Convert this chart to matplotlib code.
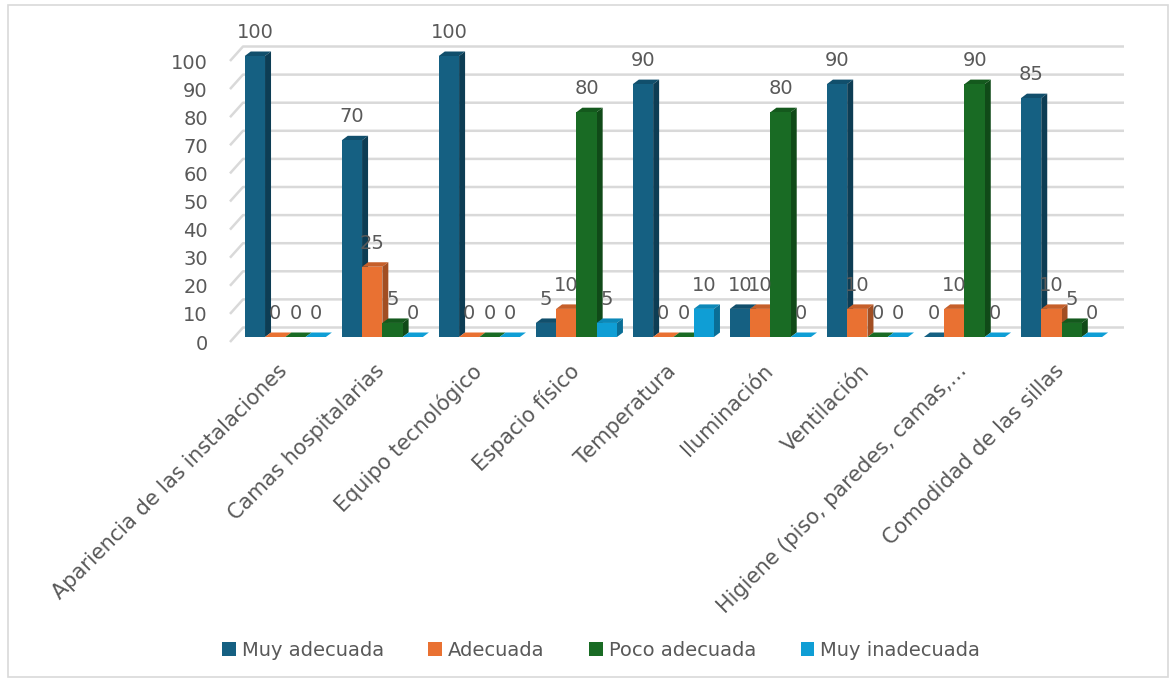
import matplotlib
matplotlib.use("Agg")
import matplotlib.pyplot as plt
import matplotlib.transforms as mtransforms
from matplotlib.patches import Polygon, Rectangle
import numpy as np

plt.rcParams['font.family'] = ['DejaVu Sans']

categorias = ["Apariencia de las instalaciones", "Camas hospitalarias", "Equipo tecnológico",
              "Espacio físico", "Temperatura", "Iluminación", "Ventilación",
              "Higiene (piso, paredes, camas,…", "Comodidad de las sillas"]
series = ["Muy adecuada", "Adecuada", "Poco adecuada", "Muy inadecuada"]
muy_adecuada = [100, 70, 100, 5, 90, 10, 90, 0, 85]
adecuada = [0, 25, 0, 10, 0, 10, 10, 10, 10]
poco_adecuada = [0, 5, 0, 80, 0, 80, 0, 90, 5]
muy_inadecuada = [0, 0, 0, 5, 10, 0, 0, 0, 0]
valores = [muy_adecuada, adecuada, poco_adecuada, muy_inadecuada]

# front, side, top colours for each series
colores = ["#156082", "#E97132", "#196B24", "#0F9ED5"]
lados = ["#0d3d54", "#a24e22", "#104a18", "#0a6e96"]
techos = ["#114f6c", "#c65f2a", "#14591d", "#0c88b8"]

texto = "#595959"
fs = 14

fig = plt.figure(figsize=(11.74, 6.81), dpi=100)
ax = fig.add_axes([230/1174, 1-337/681, 881/1174, 281/681])
ax.set_xlim(-0.57, 8.51)
ax.set_ylim(0, 100)

# pixel -> data scales
px_x = (8.51 + 0.57) / 881
px_y = 100 / 281

# back wall gridlines (3d look)
wdx, wdy = 13*px_x, 9.5*px_y
x0, x1 = -0.57, 8.51
for t in range(0, 101, 10):
    ax.plot([x0, x0+wdx, x1+wdx], [t-5*px_y, t+wdy, t+wdy], color="#d9d9d9", lw=1.8,
            clip_on=False, zorder=1, solid_capstyle="butt")

ancho = 0.209
bdx, bdy = 6*px_x, 4.5*px_y
x = np.arange(len(categorias))
for i in range(len(categorias)):
    for s in range(len(series)):
        v = valores[s][i]
        left = i - 2*ancho + s*ancho
        z = 3 + s*0.01 + i
        top = Polygon([[left, v], [left+bdx, v+bdy], [left+ancho+bdx, v+bdy], [left+ancho, v]],
                      closed=True, facecolor=techos[s] if v > 0 else colores[s],
                      edgecolor="none", clip_on=False, zorder=z)
        ax.add_patch(top)
        if v > 0:
            side = Polygon([[left+ancho, 0], [left+ancho+bdx, bdy], [left+ancho+bdx, v+bdy], [left+ancho, v]],
                           closed=True, facecolor=lados[s], edgecolor="none", clip_on=False, zorder=z)
            ax.add_patch(side)
            ax.add_patch(Rectangle((left, 0), ancho, v, facecolor=colores[s],
                                   edgecolor="none", clip_on=False, zorder=z+0.001))
        ax.annotate(str(v), (left + ancho/2, v), textcoords="offset points", xytext=(0, 10),
                    ha="center", va="bottom", fontsize=fs, color=texto, zorder=20)

ax.set_yticks(range(0, 101, 10))
ax.set_xticks(x)
ax.set_xticklabels(categorias, rotation=45, ha="right", rotation_mode="anchor")
ax.tick_params(axis="y", length=0, pad=16, labelsize=fs, labelcolor=texto)
ax.tick_params(axis="x", length=0, pad=17, labelsize=15, labelcolor=texto)
shift = mtransforms.ScaledTranslation(0, -5/100, fig.dpi_scale_trans)
for lab in ax.get_yticklabels():
    lab.set_transform(lab.get_transform() + shift)
shift_x = mtransforms.ScaledTranslation(-8/100, 0, fig.dpi_scale_trans)
for lab in ax.get_xticklabels():
    lab.set_transform(lab.get_transform() + shift_x)
for sp in ax.spines.values():
    sp.set_visible(False)
ax.patch.set_alpha(0)

handles = [Rectangle((0, 0), 1, 1, facecolor=c) for c in colores]
fig.legend(handles, series, loc="center", bbox_to_anchor=(601/1174, 1-650/681), ncol=4,
           frameon=False, fontsize=fs, labelcolor=texto, handlelength=0.7, handleheight=0.7,
           handletextpad=0.3, columnspacing=2.3)

fig.patches.append(Rectangle((8/1174, 4/681), 1160/1174, 672/681, transform=fig.transFigure,
                             facecolor="none", edgecolor="#d9d9d9", lw=1.2))

fig.savefig("out.png", dpi=100)
